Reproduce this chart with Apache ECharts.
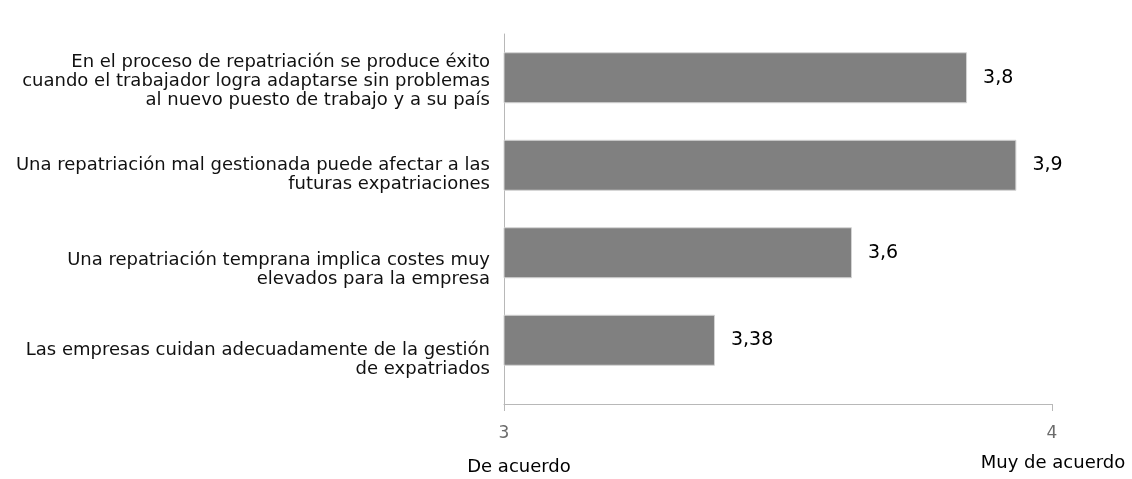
<!DOCTYPE html>
<html>
<head>
<meta charset="utf-8">
<script src="https://cdn.jsdelivr.net/npm/echarts@6/dist/echarts.min.js"></script>
<style>
  html, body { margin: 0; padding: 0; background: #fff; }
  #chart { width: 1132px; height: 479px; }
</style>
</head>
<body>
<div id="chart"></div>
<script>
const categories = [
  'En el proceso de repatriación se produce éxito\ncuando el trabajador logra adaptarse sin problemas\nal nuevo puesto de trabajo y a su país',
  'Una repatriación mal gestionada puede afectar a las\nfuturas expatriaciones',
  'Una repatriación temprana implica costes muy\nelevados para la empresa',
  'Las empresas cuidan adecuadamente de la gestión\nde expatriados'
];
const values = [3.845, 3.935, 3.635, 3.385];
const valueLabels = ['3,8', '3,9', '3,6', '3,38'];
const xMin = 3;
const xMax = 4;
const scaleNames = ['De acuerdo', 'Muy de acuerdo'];

const font = '"DejaVu Sans", sans-serif';
const axisGray = '#b8b8b8';
// the labels in the original sit a little below their bars:
// an empty first line of this height pushes each block down by half of it
const labelGap = [8, 19, 35, 39];
const gapStyles = {};
labelGap.forEach((h, i) => { gapStyles['g' + i] = { height: h, lineHeight: h, fontSize: 1 }; });

const chart = echarts.init(document.getElementById('chart'));
chart.setOption({
  animation: false,
  grid: { left: 504, right: 80, top: 34, height: 350 },
  xAxis: [{
    type: 'value',
    position: 'bottom',
    min: xMin,
    max: xMax,
    interval: 1,
    offset: 20,
    axisLine: { show: true, onZero: false, lineStyle: { color: axisGray, width: 1 } },
    axisTick: { show: true, length: 7, lineStyle: { color: axisGray } },
    axisLabel: { color: '#6b6b6b', fontFamily: font, fontSize: 17, margin: 21 },
    splitLine: { show: false }
  }, {
    // short piece joining the vertical axis to the offset horizontal axis
    type: 'value',
    position: 'bottom',
    min: xMin,
    max: xMax,
    interval: 1,
    offset: 20,
    axisLine: { show: false, onZero: false },
    axisTick: { show: true, inside: true, length: 20, customValues: [xMin], lineStyle: { color: axisGray } },
    axisLabel: { show: false },
    splitLine: { show: false }
  }],
  yAxis: {
    type: 'category',
    data: categories,
    inverse: true,
    axisLine: { show: true, lineStyle: { color: axisGray } },
    axisTick: { show: false },
    axisLabel: {
      color: '#111',
      fontFamily: font,
      fontSize: 18,
      lineHeight: 19,
      align: 'right',
      margin: 14,
      formatter: (v, i) => '{g' + i + '|}\n' + v,
      rich: gapStyles
    }
  },
  series: [{
    type: 'bar',
    xAxisIndex: 0,
    data: values,
    barWidth: 51,
    itemStyle: { color: '#808080', borderColor: '#d4d4d4', borderWidth: 1 },
    label: {
      show: true,
      position: 'right',
      distance: 16,
      color: '#000',
      fontFamily: font,
      fontSize: 19,
      formatter: p => valueLabels[p.dataIndex]
    }
  }],
  graphic: [
    { type: 'text', x: 519, y: 467, style: { text: scaleNames[0], font: '18px ' + font, fill: '#000', align: 'center', verticalAlign: 'middle' } },
    { type: 'text', x: 1053, y: 463, style: { text: scaleNames[1], font: '18px ' + font, fill: '#000', align: 'center', verticalAlign: 'middle' } }
  ]
});
</script>
</body>
</html>
